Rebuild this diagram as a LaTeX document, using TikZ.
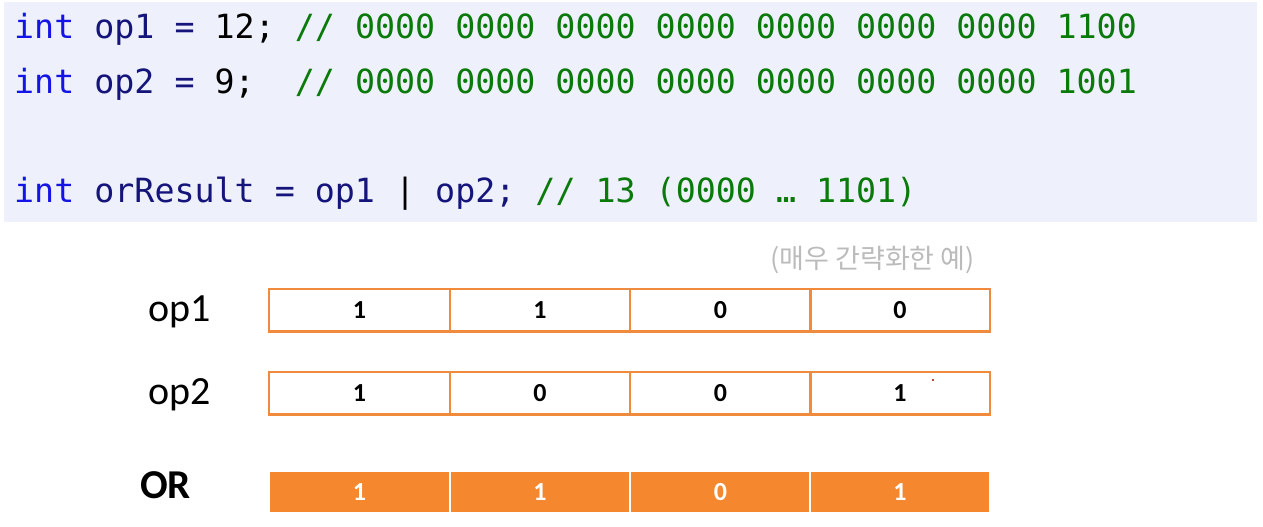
\documentclass[tikz,border=0pt]{standalone}
\usepackage{fontspec}
\setmainfont{Carlito}
\newfontfamily\codefont{DejaVu Sans Mono}
\newfontfamily\krfont{Noto Sans CJK KR}
\definecolor{codebg}{HTML}{EEF0FB}
\definecolor{kw}{HTML}{1414E6}
\definecolor{idn}{HTML}{14147A}
\definecolor{cmt}{HTML}{0A7A0A}
\definecolor{org}{HTML}{F08A3C}
\definecolor{orgfill}{HTML}{F5872F}
\definecolor{note}{HTML}{BBBBBB}
\newcommand{\K}[1]{\textcolor{kw}{#1}}
\newcommand{\I}[1]{\textcolor{idn}{#1}}
\newcommand{\C}[1]{\textcolor{cmt}{#1}}
\begin{document}
\begin{tikzpicture}[x=1pt,y=-1pt,
  codeline/.style={anchor=base west,inner sep=0pt,font=\codefont\fontsize{33.3}{40}\selectfont},
  rowlabel/.style={anchor=base west,inner sep=0pt,font=\fontsize{40}{48}\selectfont},
  cell/.style={draw=org,line width=1.6pt,minimum width=180.5pt,minimum height=42pt,inner sep=0pt,
    font=\bfseries\fontsize{26}{30}\selectfont,text=black},
  rcell/.style={fill=orgfill,draw=white,line width=1.6pt,minimum width=180.5pt,minimum height=42pt,inner sep=0pt,
    font=\bfseries\fontsize{26}{30}\selectfont,text=white}]
\useasboundingbox (0,0) rectangle (1263,527);
\fill[codebg] (4,2) rectangle (1257,222);
\node[codeline] (l1) at (14,38) {\K{int} \I{op1 =} 12; \C{// 0000 0000 0000 0000 0000 0000 0000 1100}};
\node[codeline] (l2) at (14,93) {\K{int} \I{op2 =} 9;\ \ \C{// 0000 0000 0000 0000 0000 0000 0000 1001}};
\node[codeline] (l3) at (14,202) {\K{int} \I{orResult = op1} | \I{op2;} \C{// 13 (0000 … 1101)}};
\node[anchor=base east,inner sep=0pt,text=note,font=\krfont\fontsize{27}{32}\selectfont] (nt) at (975,268) {(매우 간략화한 예)};
\node[rowlabel] (lab1) at (148,321) {op1};
\node[rowlabel] (lab2) at (148,404) {op2};
\node[rowlabel,font=\bfseries\fontsize{41}{48}\selectfont] (lab3) at (140,498) {OR};
% row 1
\node[cell] (a1) at (359.5,310) {1};
\node[cell] (a2) at (540,310) {1};
\node[cell] (a3) at (720.5,310) {0};
\node[cell] (a4) at (900,310) {0};
\draw[org,line width=2.4pt] (a1.south west) -- (a4.south east);
% row 2
\node[cell] (b1) at (359.5,393) {1};
\node[cell] (b2) at (540,393) {0};
\node[cell] (b3) at (720.5,393) {0};
\node[cell] (b4) at (900,393) {1};
\draw[org,line width=2.4pt] (b1.south west) -- (b4.south east);
% row 3
\node[rcell] (c1) at (359.5,492) {1};
\node[rcell] (c2) at (540,492) {1};
\node[rcell] (c3) at (720.5,492) {0};
\node[rcell] (c4) at (900,492) {1};
\fill[red!70!black] (933,380) circle (1.2pt);
\end{tikzpicture}
\end{document}
